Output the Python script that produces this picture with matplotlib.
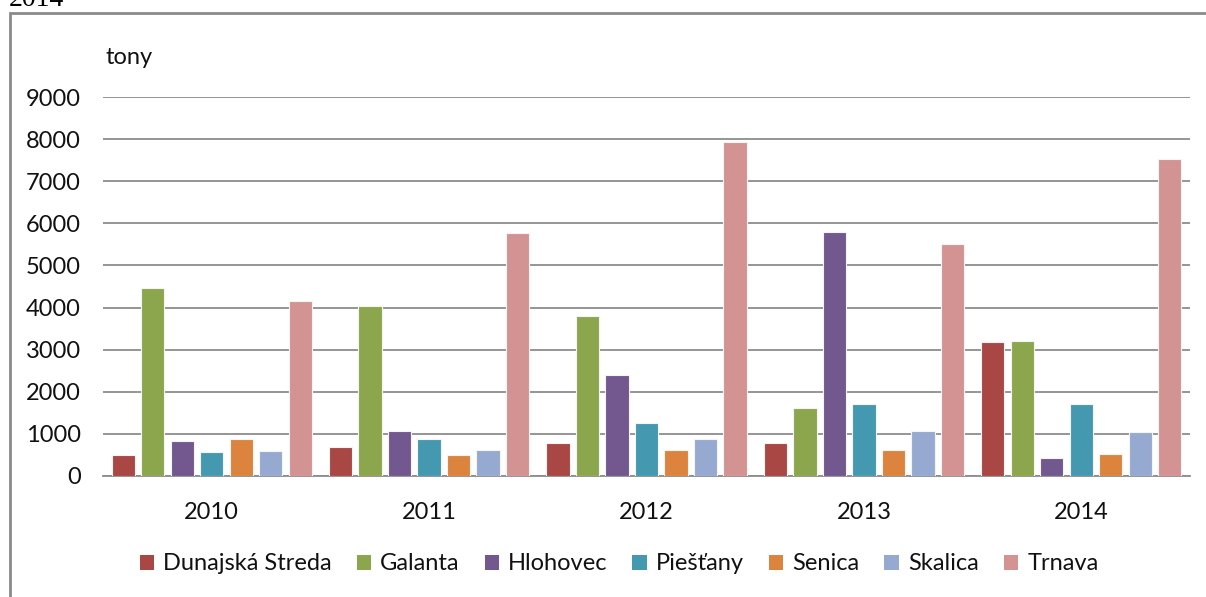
import matplotlib
matplotlib.use('Agg')
import matplotlib.pyplot as plt
from matplotlib.patches import Patch, Rectangle
import numpy as np

years = ['2010', '2011', '2012', '2013', '2014']
districts = ['Dunajská Streda', 'Galanta', 'Hlohovec', 'Piešťany', 'Senica', 'Skalica', 'Trnava']

dunajska_streda = [505, 680, 790, 790, 3190]
galanta = [4470, 4045, 3800, 1610, 3215]
hlohovec = [820, 1060, 2400, 5790, 435]
piestany = [560, 885, 1265, 1720, 1700]
senica = [885, 505, 625, 615, 530]
skalica = [585, 625, 885, 1080, 1050]
trnava = [4155, 5760, 7920, 5500, 7535]

series = [dunajska_streda, galanta, hlohovec, piestany, senica, skalica, trnava]
colors = ['#A94744', '#8BA64D', '#72588E', '#4499B0', '#DC843E', '#96AAD1', '#D29392']

plt.rcParams['font.family'] = ['Lato', 'DejaVu Sans']
fsize = 17
tcol = '#111111'

fig = plt.figure(figsize=(12.06, 5.97), dpi=100)
ax = fig.add_axes([103 / 1206, 1 - 476 / 597, (1190 - 103) / 1206, (476 - 97) / 597])

x = np.arange(len(years))
pitch = 0.1357
width = 0.107
for j, (vals, col) in enumerate(zip(series, colors)):
    ax.bar(x + (j - 3) * pitch, vals, width=width, color=col,
           edgecolor='#f4f4f4', linewidth=0.8, zorder=3, label=districts[j])

ax.set_xlim(-0.5, 4.5)
ax.set_ylim(0, 9000)
ax.set_yticks(range(0, 9001, 1000))
ax.set_xticks(x)
ax.set_xticklabels(years)
ax.yaxis.grid(True, color='#8c8c8c', linewidth=1.3, zorder=0)
for s in ['left', 'right', 'top']:
    ax.spines[s].set_visible(False)
ax.spines['bottom'].set_color('#8c8c8c')
ax.spines['bottom'].set_linewidth(1.3)
ax.tick_params(axis='both', length=0, labelsize=fsize, colors=tcol)
ax.tick_params(axis='y', pad=16)
ax.tick_params(axis='x', pad=19)

fig.text(105 / 1206, 1 - 57 / 597, 'tony', fontsize=fsize, color=tcol, va='center')

handles = [Patch(facecolor=c, edgecolor='none') for c in colors]
fig.legend(handles, districts, loc='center', bbox_to_anchor=(619 / 1206, 1 - 564 / 597),
           ncol=7, frameon=False, fontsize=fsize, handlelength=0.6, handleheight=0.6,
           handletextpad=0.4, columnspacing=1.05, labelcolor=tcol)

# outer chart frame (cut off at right and bottom)
fig.patches.append(Rectangle((10 / 1206, -0.05), 1.2, 1 - 13 / 597 + 0.05,
                             transform=fig.transFigure, fill=False,
                             edgecolor='#8a8a8a', linewidth=2))

# page text above the chart, cut off by the image edge as in the source
fig.text(9 / 1206, 1 - 6 / 597, '2014', family='Liberation Serif', fontsize=20,
         color='black', va='baseline')

fig.savefig('out.png', dpi=100)
